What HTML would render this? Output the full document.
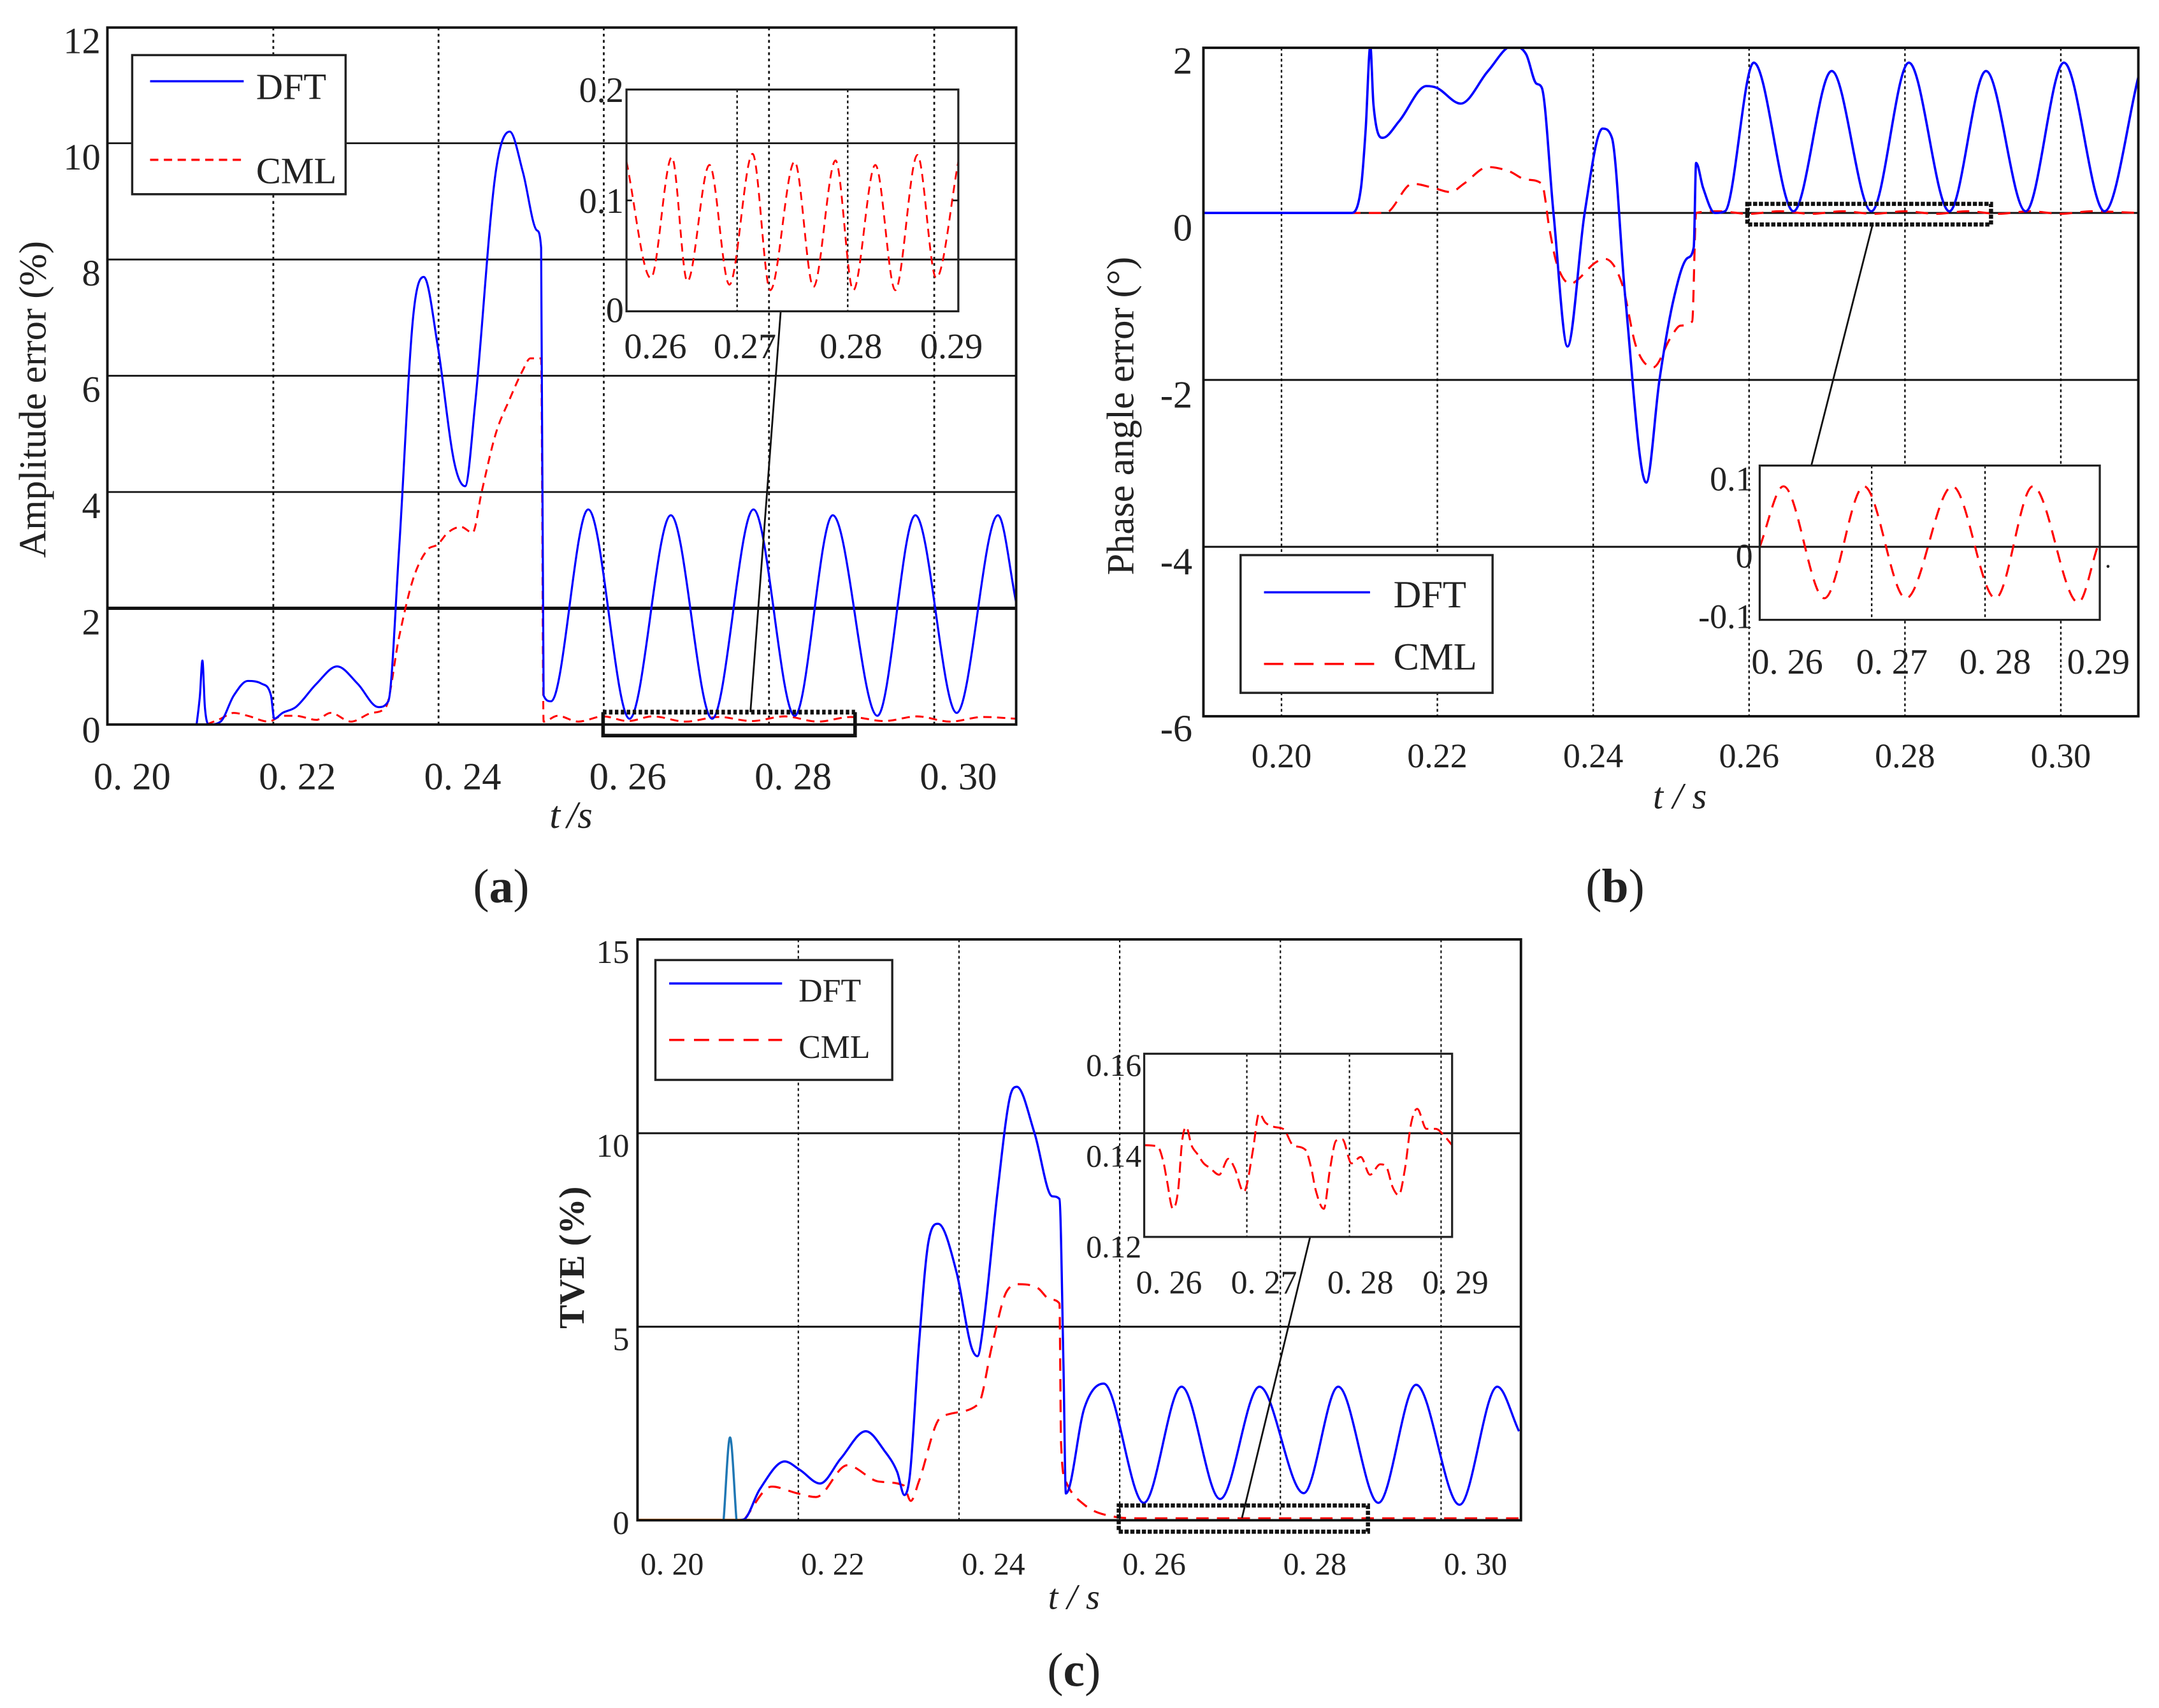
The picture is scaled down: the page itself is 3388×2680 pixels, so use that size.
<!DOCTYPE html>
<html><head><meta charset="utf-8"><title>Amplitude, phase and TVE errors</title>
<style>
html,body{margin:0;padding:0;background:#fff;}
svg{display:block;}
text{font-family:"Liberation Serif",serif;fill:#222;}
</style></head>
<body>
<svg id="fig" xmlns="http://www.w3.org/2000/svg" width="3388" height="2680" viewBox="0 0 1568 1240" preserveAspectRatio="none"></svg>
<script>
// ---------- Panel (a): amplitude error ----------
const A_dft_t = [0.2108,0.2112,0.2115,0.2118,0.2123,0.2137,0.2153,0.2170,0.2187,0.2198,0.2202,0.2212,0.2228,0.2253,0.2278,0.2303,0.2328,0.2340,0.2353,0.2370,0.2383,0.2400,0.2420,0.2433,0.2445,0.2470,0.2487,0.2503,0.2520,0.2525,0.2528,0.2537,0.2582,0.2632,0.2682,0.2732,0.2782,0.2832,0.2878,0.2932,0.2978,0.3028,0.3078,0.3100];
const A_dft_v = [0,0.5,1.1,0.3,0,0.05,0.5,0.75,0.7,0.5,0.1,0.2,0.3,0.7,1.0,0.7,0.3,0.4,3.0,7.0,7.7,6.5,4.5,4.1,5.5,9.5,10.2,9.5,8.5,8.2,0.5,0.4,3.7,0.1,3.6,0.1,3.7,0.15,3.6,0.15,3.6,0.2,3.6,2.1];
const A_cml_t = [0.2120,0.2137,0.2153,0.2170,0.2195,0.2212,0.2228,0.2253,0.2270,0.2295,0.2320,0.2337,0.2353,0.2370,0.2387,0.2400,0.2412,0.2428,0.2442,0.2453,0.2470,0.2487,0.2503,0.2512,0.2525,0.2528,0.2545,0.2570,0.2600,0.2630,0.2660,0.2700,0.2740,0.2780,0.2820,0.2860,0.2900,0.2940,0.2980,0.3020,0.3060,0.3100];
const A_cml_v = [0,0.1,0.2,0.15,0.05,0.15,0.15,0.08,0.2,0.05,0.2,0.3,1.5,2.5,3.0,3.1,3.3,3.4,3.3,4.0,5.0,5.6,6.1,6.3,6.3,0.05,0.15,0.05,0.14,0.06,0.14,0.05,0.13,0.06,0.14,0.05,0.13,0.06,0.14,0.05,0.13,0.1];
const A_in_t = [0.2600,0.2622,0.2641,0.2655,0.2675,0.2693,0.2714,0.2730,0.2752,0.2769,0.2789,0.2805,0.2825,0.2843,0.2863,0.2880,0.2900];
const A_in_v = [0.135,0.030,0.139,0.027,0.132,0.024,0.142,0.019,0.135,0.022,0.136,0.019,0.132,0.019,0.141,0.030,0.135];
const A_yticks = [0,2,4,6,8,10,12];
const A_xticks = ["0. 20","0. 22","0. 24","0. 26","0. 28","0. 30"];
const A_in_yticks = ["0","0.1","0.2"];
const A_in_xticks = ["0.26","0.27","0.28","0.29"];

// ---------- Panel (b): phase angle error ----------
const B_dft_t = [0.1900,0.2089,0.2102,0.2108,0.2114,0.2118,0.2130,0.2151,0.2186,0.2199,0.2230,0.2265,0.2296,0.2314,0.2327,0.2334,0.2349,0.2367,0.2389,0.2412,0.2424,0.2441,0.2468,0.2485,0.2503,0.2521,0.2529,0.2532,0.2541,0.2556,0.2569,0.2606,0.2657,0.2706,0.2757,0.2805,0.2857,0.2904,0.2955,0.3004,0.3056,0.3100];
const B_dft_v = [0,0,0.3,1.0,2.0,1.3,0.9,1.1,1.52,1.5,1.31,1.7,2.0,1.9,1.55,1.5,0,-1.6,0,1.01,0.9,-1.0,-3.23,-2.0,-1.04,-0.54,-0.41,0.6,0.3,0,0.02,1.8,0.02,1.7,0.02,1.8,0.02,1.7,0.02,1.8,0.02,1.65];
const B_cml_t = [0.1900,0.2133,0.2168,0.2195,0.2217,0.2234,0.2265,0.2292,0.2314,0.2334,0.2344,0.2353,0.2371,0.2380,0.2402,0.2415,0.2437,0.2455,0.2477,0.2499,0.2512,0.2527,0.2532,0.2560,0.2600,0.2640,0.2680,0.2720,0.2760,0.2800,0.2840,0.2880,0.2920,0.2960,0.3000,0.3040,0.3100];
const B_cml_v = [0,0,0.35,0.3,0.25,0.35,0.55,0.5,0.4,0.35,-0.2,-0.6,-0.85,-0.8,-0.6,-0.55,-0.85,-1.6,-1.85,-1.5,-1.35,-1.3,0,0.02,-0.01,0.02,-0.01,0.02,-0.01,0.02,-0.01,0.02,-0.01,0.02,-0.01,0.02,0];
const B_in_t = [0.2600,0.2621,0.2657,0.2692,0.2729,0.2770,0.2808,0.2841,0.2881,0.2898];
const B_in_v = [0,0.087,-0.074,0.087,-0.074,0.087,-0.074,0.087,-0.080,0];
const B_yticks = [2,0,-2,-4,-6];
const B_xticks = ["0.20","0.22","0.24","0.26","0.28","0.30"];
const B_in_yticks = ["0.1","0","-0.1"];
const B_in_xticks = ["0. 26","0. 27","0. 28","0.29"];

// ---------- Panel (c): TVE ----------
const C_spike_t = [0.2107,0.2115,0.2123];
const C_spike_v = [0,2.14,0];
const C_orange_t = [0.2000,0.2140];
const C_orange_v = [0,0];
const C_dft_t = [0.2123,0.2132,0.2152,0.2183,0.2202,0.2227,0.2253,0.2284,0.2307,0.2323,0.2332,0.2339,0.2350,0.2362,0.2374,0.2397,0.2415,0.2423,0.2430,0.2448,0.2463,0.2472,0.2494,0.2516,0.2525,0.2530,0.2533,0.2556,0.2580,0.2630,0.2677,0.2725,0.2774,0.2829,0.2872,0.2922,0.2969,0.3023,0.3070,0.3097];
const C_dft_v = [0,0.02,0.8,1.52,1.3,0.95,1.6,2.3,1.8,1.25,0.65,1.2,4.5,7.2,7.66,6.4,4.5,4.24,5.0,8.5,10.9,11.2,10.0,8.37,8.3,4.0,0.69,2.9,3.53,0.45,3.45,0.55,3.45,0.7,3.45,0.45,3.5,0.4,3.45,2.3];
const C_cml_t = [0.2132,0.2167,0.2198,0.2222,0.2261,0.2300,0.2331,0.2340,0.2350,0.2377,0.2424,0.2441,0.2459,0.2475,0.2498,0.2514,0.2525,0.2527,0.2533,0.2556,0.2591,0.2627,0.3097];
const C_cml_v = [0,0.87,0.7,0.6,1.42,1.0,0.9,0.5,1.0,2.65,3.0,4.5,5.9,6.1,6.0,5.7,5.6,2.0,1.0,0.4,0.1,0.05,0.05];
const C_in_t = [0.2600,0.2613,0.2619,0.2622,0.2628,0.2633,0.2637,0.2641,0.2646,0.2652,0.2658,0.2664,0.2673,0.2682,0.2688,0.2697,0.2700,0.2706,0.2712,0.2718,0.2727,0.2736,0.2745,0.2757,0.2763,0.2767,0.2775,0.2781,0.2787,0.2793,0.2802,0.2811,0.2820,0.2830,0.2836,0.2842,0.2848,0.2854,0.2860,0.2866,0.2875,0.2884,0.2893,0.2900];
const C_in_v = [0.142,0.1417,0.138,0.1344,0.128,0.132,0.143,0.146,0.142,0.140,0.138,0.137,0.1355,0.139,0.137,0.1317,0.1333,0.141,0.149,0.147,0.146,0.1455,0.142,0.141,0.1367,0.1322,0.128,0.1367,0.143,0.1433,0.138,0.1394,0.1355,0.1378,0.1372,0.1328,0.131,0.1367,0.1467,0.150,0.1456,0.1456,0.1439,0.142];
const C_yticks = [0,5,10,15];
const C_xticks = ["0. 20","0. 22","0. 24","0. 26","0. 28","0. 30"];
const C_in_yticks = ["0.16","0.14","0.12"];
const C_in_xticks = ["0. 26","0. 27","0. 28","0. 29"];

const NS = "http://www.w3.org/2000/svg";
const svg = document.getElementById('fig');
let clipId = 0;

function mk(tag, attrs, parent, name) {
  const el = document.createElementNS(NS, tag);
  for (const k in attrs) el.setAttribute(k, attrs[k]);
  
  
  parent.appendChild(el);
  return el;
}
function txt(s, x, y, size, anchor, parent, name, extra) {
  const el = mk('text', Object.assign({x:x, y:y, 'font-size':size, 'text-anchor':anchor||'middle'}, extra||{}), parent, name);
  el.textContent = s;
  return el;
}
function monoPath(px, py) {
  const n = px.length;
  if (n < 2) return '';
  const d = [], m = [];
  for (let i = 0; i < n - 1; i++) d.push((py[i+1]-py[i]) / ((px[i+1]-px[i]) || 1e-6));
  m.push(d[0]);
  for (let i = 1; i < n - 1; i++) m.push(d[i-1]*d[i] <= 0 ? 0 : (d[i-1]+d[i]) / 2);
  m.push(d[n-2]);
  for (let i = 0; i < n - 1; i++) {
    if (d[i] === 0) { m[i] = 0; m[i+1] = 0; continue; }
    const a = m[i]/d[i], b = m[i+1]/d[i], s = a*a + b*b;
    if (s > 9) { const t = 3/Math.sqrt(s); m[i] = t*a*d[i]; m[i+1] = t*b*d[i]; }
  }
  let p = 'M' + px[0].toFixed(2) + ',' + py[0].toFixed(2);
  for (let i = 0; i < n - 1; i++) {
    const h = (px[i+1]-px[i]) / 3;
    p += ' C' + (px[i]+h).toFixed(2) + ',' + (py[i]+m[i]*h).toFixed(2) + ' ' +
         (px[i+1]-h).toFixed(2) + ',' + (py[i+1]-m[i+1]*h).toFixed(2) + ' ' +
         px[i+1].toFixed(2) + ',' + py[i+1].toFixed(2);
  }
  return p;
}
function series(ts, vs, sx, sy, parent, name, stroke, width, dash, clip) {
  const a = {d: monoPath(ts.map(sx), vs.map(sy)), fill:'none', stroke:stroke, 'stroke-width':width, 'stroke-linejoin':'round'};
  if (dash) a['stroke-dasharray'] = dash;
  if (clip) a['clip-path'] = 'url(#' + clip + ')';
  return mk('path', a, parent, name);
}
function clipRect(x, y, w, h) {
  clipId++;
  const defs = mk('defs', {}, svg, 'clip-defs');
  const cp = mk('clipPath', {id:'clip' + clipId}, defs, 'clip-path');
  mk('rect', {x:x, y:y, width:w, height:h}, cp, 'clip-rect');
  return 'clip' + clipId;
}
function line(x1, y1, x2, y2, parent, name, w, dash, col) {
  const a = {x1:x1, y1:y1, x2:x2, y2:y2, stroke:col||'#111', 'stroke-width':w};
  if (dash) a['stroke-dasharray'] = dash;
  return mk('line', a, parent, name);
}
function legend(g, x, y, w, h, l1, l2, tx, t1y, t2y, size, dash, name) {
  const lg = mk('g', {}, g, name);
  mk('rect', {x:x, y:y, width:w, height:h, fill:'#fff', stroke:'#222', 'stroke-width':1.6}, lg, 'legend-box');
  line(l1[0], l1[2], l1[1], l1[2], lg, 'legend-dft-swatch', 1.6, null, '#0000ff');
  line(l2[0], l2[2], l2[1], l2[2], lg, 'legend-cml-swatch', 1.6, dash, '#ff0000');
  txt('DFT', tx, t1y, size, 'start', lg, 'legend-dft-label');
  txt('CML', tx, t2y, size, 'start', lg, 'legend-cml-label');
}

// ================= Panel (a) =================
(function(){
  const g = mk('g', {}, svg, 'panel-a-amplitude-error');
  const X0 = 78, X1 = 738, Y0 = 20, Y1 = 526;
  const sx = t => 78 + (t - 0.20) * 6000;
  const sy = v => 526 - v * 42.2;
  const cid = clipRect(X0, Y0, X1 - X0, Y1 - Y0);
  A_yticks.forEach(v => { if (v > 0 && v < 12) line(X0, sy(v), X1, sy(v), g, 'y-gridline', v === 2 ? 2.4 : 1.3); });
  [0.22,0.24,0.26,0.28,0.30].forEach(t => line(sx(t)+0.5, Y0, sx(t)+0.5, Y1, g, 'x-gridline', 1.3, '2 2.5'));
  series(A_cml_t, A_cml_v, sx, sy, g, 'cml-series', '#ff0000', 1.4, '6 4', cid);
  series(A_dft_t, A_dft_v, sx, sy, g, 'dft-series', '#0000ff', 1.5, null, cid);
  mk('rect', {x:X0, y:Y0, width:X1-X0, height:Y1-Y0, fill:'none', stroke:'#111', 'stroke-width':1.8}, g, 'plot-frame');
  A_yticks.forEach(v => txt(String(v), 73, sy(v) + 19 - (v===0?6:0), 27, 'end', g, 'y-tick-label'));
  A_xticks.forEach((s, i) => txt(s, sx(0.20 + i*0.02) + 18, 573, 28, 'middle', g, 'x-tick-label'));
  txt('t', 403, 601, 28, 'middle', g, 'x-axis-title', {'font-style':'italic'});
  txt('/s', 421, 601, 28, 'middle', g, 'x-axis-title-unit', {'font-style':'italic'});
  txt('Amplitude error (%)', 0, 0, 28, 'middle', g, 'y-axis-title', {transform:'translate(33,290) rotate(-90)'});
  const pl = txt('(', 364, 655, 35, 'middle', g, 'panel-label-a');
  pl.innerHTML = '(<tspan font-weight="bold">a</tspan>)';
  legend(g, 96, 40, 155, 101, [109,177,59], [109,175,116], 186, 72, 133, 27, '6 4', 'legend-a');
  line(438, 517, 621, 517, g, 'zoom-box-top', 3.5, '2.5 1.8');
  mk('path', {d:'M438,517 L438,534 L621,534 L621,517', fill:'none', stroke:'#111', 'stroke-width':2.6}, g, 'zoom-box');
  line(545, 517, 567, 226, g, 'zoom-connector', 1.3);
  const ig = mk('g', {}, g, 'inset-a');
  const ix = t => 455 + (t - 0.26) * (241/0.03);
  const iy = v => 226 - v * (161/0.2);
  const icid = clipRect(455, 65, 241, 161);
  [0.27,0.28].forEach(t => line(ix(t), 65, ix(t), 226, ig, 'inset-x-gridline', 1.1, '2 2'));
  series(A_in_t, A_in_v, ix, iy, ig, 'inset-cml-series', '#ff0000', 1.3, '6 4', icid);
  mk('rect', {x:455, y:65, width:241, height:161, fill:'none', stroke:'#222', 'stroke-width':1.5}, ig, 'inset-frame');
  line(455, iy(0.1), 459, iy(0.1), ig, 'inset-tick', 1.2);
  line(692, iy(0.1), 696, iy(0.1), ig, 'inset-tick', 1.2);
  A_in_yticks.forEach((s, i) => txt(s, 453, iy(i*0.1) + 9 + (i===0?-1:0), 26, 'end', ig, 'inset-y-tick-label'));
  A_in_xticks.forEach((s, i) => txt(s, [476,541,618,691][i], 260, 26, 'middle', ig, 'inset-x-tick-label'));
})();

// ================= Panel (b) =================
(function(){
  const g = mk('g', {}, svg, 'panel-b-phase-angle-error');
  const X0 = 874, X1 = 1553, Y0 = 34.7, Y1 = 520;
  const sx = t => 930.7 + (t - 0.20) * 5660;
  const sy = v => 154.6 - v * 60.6;
  const cid = clipRect(X0, Y0, X1 - X0, Y1 - Y0);
  B_yticks.forEach(v => { if (v < 2 && v > -6) line(X0, sy(v), X1, sy(v), g, 'y-gridline', 1.4); });
  [0.20,0.22,0.24,0.26,0.28,0.30].forEach(t => line(sx(t), Y0, sx(t), Y1, g, 'x-gridline', 1.1, '2 2'));
  series(B_cml_t, B_cml_v, sx, sy, g, 'cml-series', '#ff0000', 1.5, '9 6', cid);
  series(B_dft_t, B_dft_v, sx, sy, g, 'dft-series', '#0000ff', 1.7, null, cid);
  mk('rect', {x:X0, y:Y0, width:X1-X0, height:Y1-Y0, fill:'none', stroke:'#111', 'stroke-width':1.8}, g, 'plot-frame');
  B_yticks.forEach(v => txt(String(v), 866, sy(v) + 20, 28, 'end', g, 'y-tick-label'));
  B_xticks.forEach((s, i) => txt(s, sx(0.20 + i*0.02), 557, 25, 'middle', g, 'x-tick-label'));
  txt('t / s', 1220, 587, 27, 'middle', g, 'x-axis-title', {'font-style':'italic'});
  txt('Phase  angle  error  (°)', 0, 0, 28, 'middle', g, 'y-axis-title', {transform:'translate(823,302) rotate(-90)'});
  const pl = txt('(', 1173, 655, 35, 'middle', g, 'panel-label-b');
  pl.innerHTML = '(<tspan font-weight="bold">b</tspan>)';
  legend(g, 901, 403, 183, 100, [918,995,430], [918,1000,482], 1012, 441, 486, 28, '14 8', 'legend-b');
  mk('rect', {x:1269, y:148, width:177, height:15, fill:'none', stroke:'#111', 'stroke-width':3, 'stroke-dasharray':'3 1.2'}, g, 'zoom-box');
  line(1360, 163, 1315.5, 338, g, 'zoom-connector', 1.3);
  const ig = mk('g', {}, g, 'inset-b');
  const ix = t => 1278 + (t - 0.26) * (247/0.03);
  const iy = v => 397 - v * 505;
  const icid = clipRect(1278, 338, 247, 112);
  mk('rect', {x:1278, y:338, width:247, height:112, fill:'#fff', stroke:'none'}, ig, 'inset-bg');
  line(1278, 397, 1525, 397, ig, 'inset-zero-line', 1.4);
  [0.27,0.28].forEach(t => line(ix(t) - 1, 338, ix(t) - 1, 450, ig, 'inset-x-gridline', 1.1, '2 2'));
  series(B_in_t, B_in_v, ix, iy, ig, 'inset-cml-series', '#ff0000', 1.5, '9 6', icid);
  mk('rect', {x:1278, y:338, width:247, height:112, fill:'none', stroke:'#222', 'stroke-width':1.5}, ig, 'inset-frame');
  B_in_yticks.forEach((s, i) => txt(s, 1273, [356,412,456][i], 25, 'end', ig, 'inset-y-tick-label'));
  B_in_xticks.forEach((s, i) => txt(s, [1298,1374,1449,1524][i], 489, 26, 'middle', ig, 'inset-x-tick-label'));
  txt('.', 1531, 412, 18, 'middle', ig, 'inset-dot');
})();

// ================= Panel (c) =================
(function(){
  const g = mk('g', {}, svg, 'panel-c-tve');
  const X0 = 463, X1 = 1104.6, Y0 = 682, Y1 = 1103.7;
  const sx = t => 463.1 + (t - 0.20) * 5835;
  const sy = v => 1103.7 - v * 28.1;
  const cid = clipRect(X0, Y0, X1 - X0, Y1 - Y0);
  [5,10].forEach(v => line(X0, sy(v), X1, sy(v), g, 'y-gridline', 1.4));
  [0.22,0.24,0.26,0.28,0.30].forEach(t => line(sx(t), Y0, sx(t), Y1, g, 'x-gridline', 1.0, '2 2'));
  series(C_orange_t, C_orange_v, sx, sy, g, 'orange-baseline-series', '#ff7f0e', 2.2, null, cid);
  series(C_spike_t, C_spike_v, sx, sy, g, 'spike-series', '#1f77b4', 1.6, null, cid);
  series(C_cml_t, C_cml_v, sx, sy, g, 'cml-series', '#ff0000', 1.5, '9 6', cid);
  series(C_dft_t, C_dft_v, sx, sy, g, 'dft-series', '#0000ff', 1.6, null, cid);
  mk('rect', {x:X0, y:Y0, width:X1-X0, height:Y1-Y0, fill:'none', stroke:'#111', 'stroke-width':1.8}, g, 'plot-frame');
  C_yticks.forEach(v => txt(String(v), 457, sy(v) + (v===0?10:17), 24, 'end', g, 'y-tick-label'));
  C_xticks.forEach((s, i) => txt(s, sx(0.20 + i*0.02) + 25, 1143, 23, 'middle', g, 'x-tick-label'));
  txt('t / s', 780, 1168, 26, 'middle', g, 'x-axis-title', {'font-style':'italic'});
  txt('TVE  (%)', 0, 0, 26, 'middle', g, 'y-axis-title', {transform:'translate(424,913) rotate(-90)', 'font-weight':'bold'});
  const pl = txt('(', 780, 1224, 35, 'middle', g, 'panel-label-c');
  pl.innerHTML = '(<tspan font-weight="bold">c</tspan>)';
  legend(g, 476, 697, 172, 87, [486,568,714], [486,568,755], 580, 727, 768, 24, '11 7', 'legend-c');
  mk('rect', {x:812.5, y:1093, width:181, height:19, fill:'none', stroke:'#111', 'stroke-width':3, 'stroke-dasharray':'3 1.2'}, g, 'zoom-box');
  line(902, 1102, 951.5, 898, g, 'zoom-connector', 1.3);
  const ig = mk('g', {}, g, 'inset-c');
  const ix = t => 831 + (t - 0.26) * (223.6/0.03);
  const iy = v => 772 + (0.16 - v) * 3300;
  const icid = clipRect(831, 765, 223.6, 133);
  [0.27,0.28].forEach(t => line(ix(t), 765, ix(t), 898, ig, 'inset-x-gridline', 1.0, '2 2'));
  series(C_in_t, C_in_v, ix, iy, ig, 'inset-cml-series', '#ff0000', 1.4, '8 4', icid);
  mk('rect', {x:831, y:765, width:223.6, height:133, fill:'none', stroke:'#222', 'stroke-width':1.5}, ig, 'inset-frame');
  C_in_yticks.forEach((s, i) => txt(s, 829, [781,847,913][i], 23, 'end', ig, 'inset-y-tick-label'));
  C_in_xticks.forEach((s, i) => txt(s, [849,918,988,1057][i], 939, 24, 'middle', ig, 'inset-x-tick-label'));
})();
</script>
</body></html>
